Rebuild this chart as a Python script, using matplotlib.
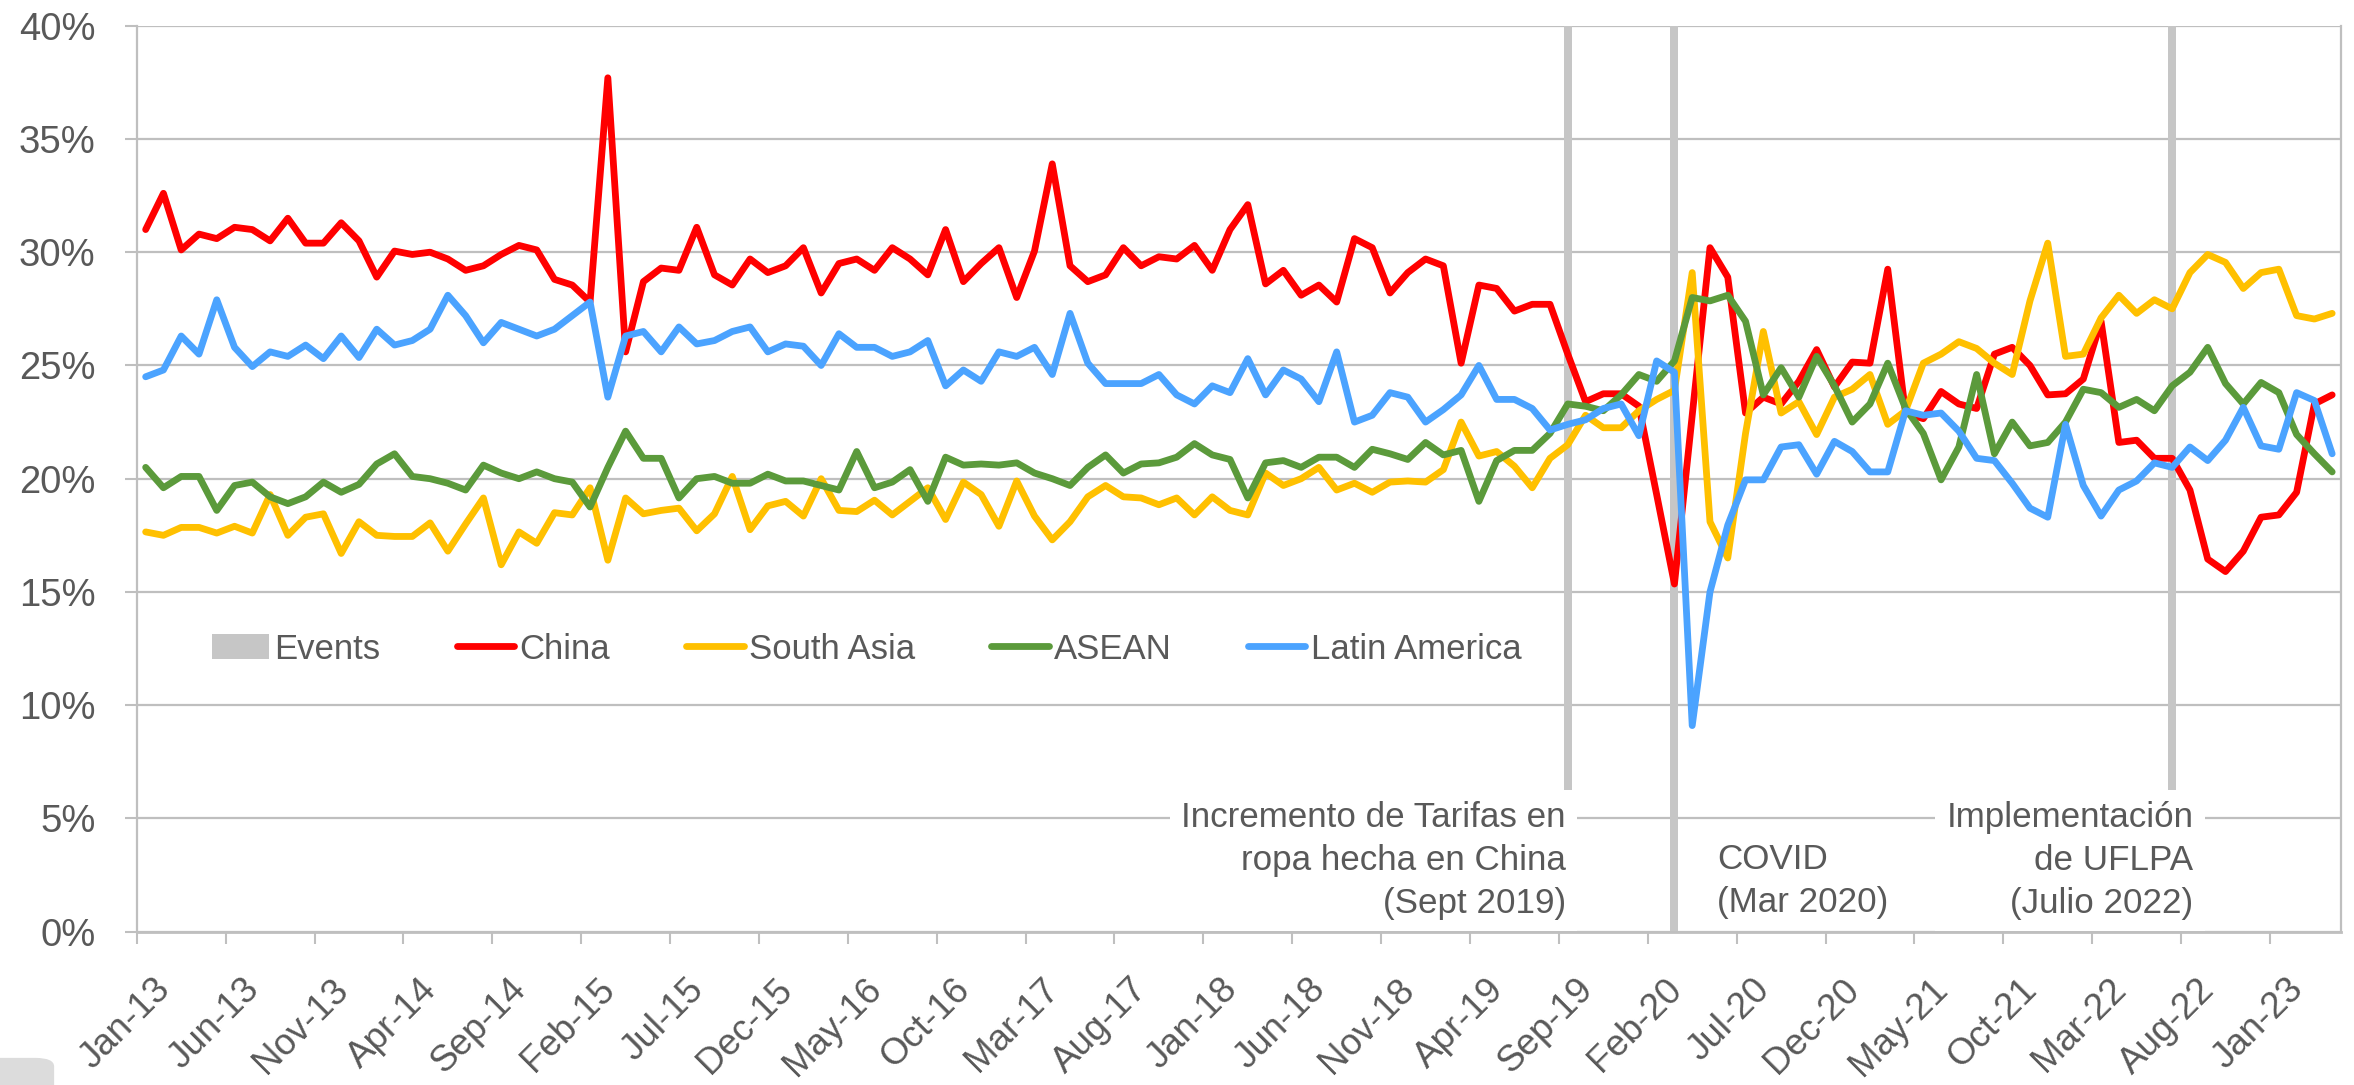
import matplotlib
matplotlib.use('Agg')
import matplotlib.pyplot as plt
from matplotlib.patches import FancyBboxPatch
from matplotlib.ticker import FuncFormatter
from matplotlib.transforms import ScaledTranslation
import numpy as np
import pandas as pd

plt.rcParams['font.family'] = ['Liberation Sans', 'DejaVu Sans']

# monthly categories, Jan-13 .. Apr-23
months = pd.date_range('2013-01-01', periods=124, freq='MS').strftime('%b-%y').tolist()

# share of imports (%)
china = [31.0, 32.6, 30.1, 30.8, 30.6, 31.1, 31.0, 30.5, 31.5, 30.4, 30.4, 31.3, 30.5, 28.9, 30.05, 29.9, 30.0, 29.7, 29.2, 29.4,
         29.9, 30.3, 30.1, 28.8, 28.55, 27.8, 37.7, 25.6, 28.7, 29.3, 29.2, 31.1, 29.0, 28.55, 29.7, 29.1, 29.4, 30.2, 28.2, 29.5,
         29.7, 29.2, 30.2, 29.7, 29.0, 31.0, 28.7, 29.5, 30.2, 28.0, 30.05, 33.9, 29.4, 28.7, 29.0, 30.2, 29.4, 29.8, 29.7, 30.3,
         29.2, 31.0, 32.1, 28.6, 29.2, 28.1, 28.55, 27.8, 30.6, 30.2, 28.2, 29.1, 29.7, 29.4, 25.1, 28.55, 28.4, 27.4, 27.7, 27.7,
         25.5, 23.4, 23.75, 23.75, 23.2, 19.3, 15.35, 22.8, 30.2, 28.9, 22.9, 23.6, 23.3, 24.3, 25.7, 24.05, 25.15, 25.1, 29.25, 22.9,
         22.65, 23.85, 23.3, 23.1, 25.5, 25.8, 25.0, 23.7, 23.75, 24.4, 26.95, 21.6, 21.7, 20.9, 20.9, 19.5, 16.45, 15.9, 16.8, 18.3,
         18.4, 19.4, 23.3, 23.7]
south_asia = [17.65, 17.5, 17.85, 17.85, 17.6, 17.9, 17.6, 19.3, 17.5, 18.3, 18.45, 16.7, 18.1, 17.5, 17.45, 17.45, 18.05, 16.8, 18.0, 19.15,
              16.2, 17.65, 17.15, 18.5, 18.4, 19.6, 16.4, 19.15, 18.45, 18.6, 18.7, 17.7, 18.45, 20.1, 17.75, 18.8, 19.0, 18.35, 20.0, 18.6,
              18.55, 19.05, 18.4, 19.0, 19.6, 18.2, 19.85, 19.3, 17.9, 19.9, 18.35, 17.3, 18.1, 19.2, 19.7, 19.2, 19.15, 18.85, 19.15, 18.4,
              19.2, 18.6, 18.4, 20.25, 19.7, 20.0, 20.5, 19.5, 19.8, 19.4, 19.85, 19.9, 19.85, 20.4, 22.5, 21.0, 21.2, 20.55, 19.6, 20.9,
              21.5, 22.8, 22.25, 22.25, 23.0, 23.5, 23.9, 29.1, 18.1, 16.5, 22.0, 26.5, 22.9, 23.4, 21.95, 23.6, 23.95, 24.6, 22.4, 23.0,
              25.1, 25.5, 26.05, 25.75, 25.1, 24.6, 27.85, 30.4, 25.4, 25.5, 27.1, 28.1, 27.3, 27.9, 27.5, 29.1, 29.9, 29.55, 28.4, 29.1,
              29.25, 27.2, 27.05, 27.3]
asean = [20.5, 19.6, 20.1, 20.1, 18.6, 19.7, 19.85, 19.2, 18.9, 19.2, 19.85, 19.4, 19.75, 20.65, 21.1, 20.1, 20.0, 19.8, 19.5, 20.6,
         20.25, 20.0, 20.3, 20.0, 19.85, 18.75, 20.5, 22.1, 20.9, 20.9, 19.15, 20.0, 20.1, 19.8, 19.8, 20.2, 19.9, 19.9, 19.7, 19.5,
         21.2, 19.6, 19.85, 20.4, 19.0, 20.95, 20.6, 20.65, 20.6, 20.7, 20.25, 20.0, 19.7, 20.5, 21.05, 20.25, 20.65, 20.7, 20.95, 21.55,
         21.05, 20.85, 19.15, 20.7, 20.8, 20.5, 20.95, 20.95, 20.5, 21.3, 21.1, 20.85, 21.6, 21.05, 21.25, 19.0, 20.8, 21.25, 21.25, 22.0,
         23.3, 23.2, 23.0, 23.7, 24.6, 24.3, 25.2, 28.0, 27.85, 28.1, 26.95, 23.7, 24.9, 23.6, 25.4, 24.1, 22.5, 23.3, 25.1, 23.1,
         22.0, 19.95, 21.4, 24.6, 21.1, 22.5, 21.45, 21.6, 22.5, 23.95, 23.8, 23.15, 23.5, 23.0, 24.1, 24.7, 25.8, 24.2, 23.3, 24.25,
         23.8, 21.95, 21.1, 20.3]
latin_america = [24.5, 24.8, 26.3, 25.5, 27.9, 25.8, 24.95, 25.6, 25.4, 25.9, 25.3, 26.3, 25.35, 26.6, 25.9, 26.1, 26.6, 28.1, 27.2, 26.0,
                 26.9, 26.6, 26.3, 26.6, 27.2, 27.8, 23.6, 26.3, 26.5, 25.6, 26.7, 25.95, 26.1, 26.5, 26.7, 25.6, 25.95, 25.85, 25.0, 26.4,
                 25.8, 25.8, 25.4, 25.6, 26.1, 24.1, 24.8, 24.3, 25.6, 25.4, 25.8, 24.6, 27.3, 25.1, 24.2, 24.2, 24.2, 24.6, 23.7, 23.3,
                 24.1, 23.8, 25.3, 23.7, 24.8, 24.4, 23.4, 25.6, 22.5, 22.8, 23.8, 23.6, 22.5, 23.05, 23.7, 25.0, 23.5, 23.5, 23.1, 22.15,
                 22.4, 22.6, 23.1, 23.3, 21.9, 25.2, 24.7, 9.1, 15.0, 17.95, 19.95, 19.95, 21.4, 21.5, 20.2, 21.65, 21.2, 20.3, 20.3, 23.0,
                 22.8, 22.9, 22.1, 20.9, 20.8, 19.8, 18.7, 18.3, 22.4, 19.7, 18.35, 19.5, 19.9, 20.7, 20.5, 21.4, 20.8, 21.7, 23.15, 21.45,
                 21.3, 23.8, 23.45, 21.1]

event_months = ['Sep-19', 'Mar-20', 'Jul-22']
event_height = 40

series = [('China', china, '#FF0000'),
          ('South Asia', south_asia, '#FFC000'),
          ('ASEAN', asean, '#5B9A3B'),
          ('Latin America', latin_america, '#4BA3FF')]

text_gray = '#595959'
grid_gray = '#BFBFBF'

fig = plt.figure(figsize=(23.54, 10.85), dpi=100)
ax = fig.add_axes([0.0581, 0.1413, 0.9364, 0.835])

x = np.arange(len(months))
ev_x = [months.index(m) for m in event_months]
bars = ax.bar(ev_x, [event_height] * len(ev_x), width=0.45, color='#C6C6C6', zorder=2, label='Events')

handles = [bars]
for name, vals, col in series:
    ln, = ax.plot(x, vals, color=col, lw=4.9, solid_joinstyle='round', solid_capstyle='round', zorder=3, label=name)
    handles.append(ln)

ax.set_xlim(-0.5, len(months) - 0.5)
ax.set_ylim(0, 40)
ax.set_yticks(np.arange(0, 41, 5))
ax.yaxis.set_major_formatter(FuncFormatter(lambda v, p: f'{v:.0f}%'))
ax.grid(axis='y', color=grid_gray, lw=1.6, zorder=0)
ax.set_axisbelow(True)

for s in ['left', 'bottom', 'right']:
    ax.spines[s].set_color(grid_gray)
    ax.spines[s].set_linewidth(1.6)
ax.spines['top'].set_visible(False)
ax.spines['bottom'].set_linewidth(2.0)

ax.tick_params(axis='y', length=8.6, width=1.5, color=grid_gray, pad=21, labelsize=27.5, labelcolor=text_gray)

# tick marks between categories, labels on the category
ax.set_xticks(np.arange(-0.5, len(months), 5))
ax.set_xticklabels([])
ax.set_xticks(x[::5], minor=True)
ax.set_xticklabels([months[i] for i in x[::5]], minor=True, rotation=45, ha='right', va='top',
                   rotation_mode='anchor')
ax.tick_params(axis='x', which='major', length=8.6, width=1.5, color=grid_gray)
ax.tick_params(axis='x', which='minor', length=0, pad=29, labelsize=26.5, labelcolor=text_gray)
for lab in ax.get_xticklabels(minor=True):
    lab.set_transform(lab.get_transform() + ScaledTranslation(0.07, 0, fig.dpi_scale_trans))

ax.legend(handles=handles, labels=['Events'] + [s[0] for s in series], ncol=5, loc='center left',
          bbox_to_anchor=(0.034, 0.312), frameon=False, fontsize=25, labelcolor=text_gray,
          handlelength=1.65, handletextpad=0.15, columnspacing=2.2, borderpad=0, borderaxespad=0)

box = dict(facecolor='white', edgecolor='none', pad=8)
ax.text(79.9, 3.15, 'Incremento de Tarifas en\nropa hecha en China\n(Sept 2019)', ha='right', va='center',
        fontsize=25.2, color=text_gray, linespacing=1.38, bbox=box, zorder=4)
ax.text(88.4, 2.25, 'COVID\n(Mar 2020)', ha='left', va='center',
        fontsize=25.2, color=text_gray, linespacing=1.38, bbox=box, zorder=4)
ax.text(115.2, 3.15, 'Implementación\nde UFLPA\n(Julio 2022)', ha='right', va='center',
        fontsize=25.2, color=text_gray, linespacing=1.38, bbox=box, zorder=4)

# grey shape cut off at the lower left corner
fig.patches.append(FancyBboxPatch((-0.02, -0.03), 0.043, 0.055, boxstyle='round,pad=0,rounding_size=0.008',
                                  transform=fig.transFigure, facecolor='#DCDCDC', edgecolor='none'))

fig.savefig('out.png', dpi=100)
